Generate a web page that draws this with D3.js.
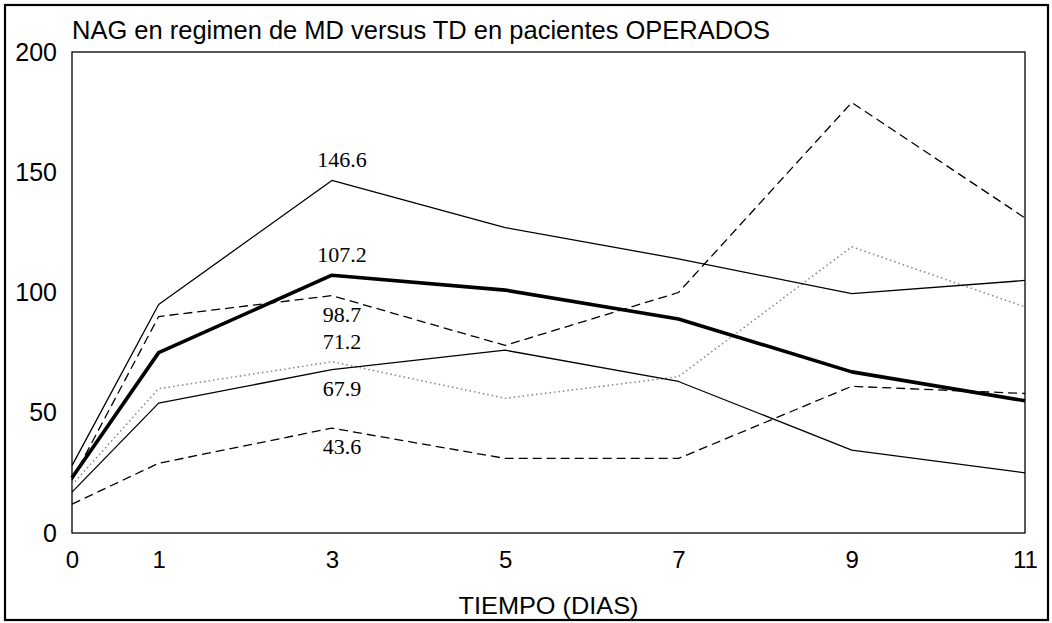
<!DOCTYPE html>
<html>
<head>
<meta charset="utf-8">
<script src="https://cdn.jsdelivr.net/npm/d3@7/dist/d3.min.js"></script>
<style>
  html, body { margin: 0; padding: 0; background: #fff; }
  svg { display: block; }
</style>
</head>
<body>
<svg id="chart" width="1052" height="623"></svg>
<script>
// ---- data ----
const days = [0, 1, 3, 5, 7, 9, 11];
const yTicks = [0, 50, 100, 150, 200];
const serieSolidUpper = [28, 95, 146.6, 127, 114, 99.5, 105];
const serieDashUpper  = [22, 90, 98.7, 78, 100, 179, 131];
const serieMean       = [23, 75, 107.2, 101, 89, 67, 55];
const serieDotted     = [20, 60, 71.2, 56, 65, 119, 94];
const serieSolidLower = [17, 54, 67.9, 76, 63, 34.5, 25];
const serieDashLower  = [12, 29, 43.6, 31, 31, 61, 58];
const labelTexts = ["146.6", "107.2", "98.7", "71.2", "67.9", "43.6"];
const labelValues = [146.6, 107.2, 98.7, 71.2, 67.9, 43.6];
const labelSide = [-1, -1, 1, -1, 1, 1];
const titleText = "NAG en regimen de MD versus TD en pacientes OPERADOS";
const xTitle = "TIEMPO (DIAS)";

const svg = d3.select("#chart");
const x = d3.scaleLinear().domain([0, 11]).range([72, 1025]);
const y = d3.scaleLinear().domain([0, 200]).range([533, 52]);
const sans = "'Liberation Sans', Arial, Helvetica, sans-serif";
const serif = "'Liberation Serif', 'Times New Roman', serif";

// outer frame
svg.append("rect").attr("x", 5).attr("y", 5).attr("width", 1043).attr("height", 615)
  .attr("fill", "none").attr("stroke", "#000").attr("stroke-width", 2.2);

// plot frame
svg.append("rect").attr("x", x(0)).attr("y", y(200))
  .attr("width", x(11) - x(0)).attr("height", y(0) - y(200))
  .attr("fill", "none").attr("stroke", "#000").attr("stroke-width", 1.3);

// title
svg.append("text").attr("x", 72).attr("y", 39)
  .attr("font-family", sans).attr("font-size", 25)
  .attr("textLength", 698).attr("lengthAdjust", "spacingAndGlyphs")
  .text(titleText);

// axes
const yAxis = svg.append("g").attr("transform", `translate(${x(0)},0)`)
  .call(d3.axisLeft(y).tickValues(yTicks).tickSize(0).tickPadding(15));
yAxis.select(".domain").remove();
yAxis.selectAll("text").attr("font-family", sans).attr("font-size", 25).attr("fill", "#000");

const xAxis = svg.append("g").attr("transform", `translate(0,${y(0)})`)
  .call(d3.axisBottom(x).tickValues(days).tickFormat(d3.format("d")).tickSize(0).tickPadding(18));
xAxis.select(".domain").remove();
xAxis.selectAll("text").attr("font-family", sans).attr("font-size", 24).attr("fill", "#000");

svg.append("text").attr("x", (x(0) + x(11)) / 2).attr("y", 614)
  .attr("text-anchor", "middle").attr("font-family", sans).attr("font-size", 24)
  .attr("textLength", 180).attr("lengthAdjust", "spacingAndGlyphs")
  .text(xTitle);

// lines
const line = d3.line().x((d, i) => x(days[i])).y(d => y(d));
const series = [
  { v: serieDotted,     stroke: "#8a8a8a", w: 1.6, dash: "1.5,3" },
  { v: serieDashLower,  stroke: "#000", w: 1.3, dash: "9,5" },
  { v: serieSolidLower, stroke: "#000", w: 1.3, dash: null },
  { v: serieDashUpper,  stroke: "#000", w: 1.3, dash: "9,5" },
  { v: serieSolidUpper, stroke: "#000", w: 1.3, dash: null },
  { v: serieMean,       stroke: "#000", w: 3.6, dash: null }
];
svg.append("g").selectAll("path").data(series).join("path")
  .attr("d", d => line(d.v))
  .attr("fill", "none")
  .attr("stroke", d => d.stroke)
  .attr("stroke-width", d => d.w)
  .attr("stroke-dasharray", d => d.dash)
  .attr("stroke-linejoin", "round");

// value labels at day 3
svg.append("g").selectAll("text").data(labelTexts).join("text")
  .attr("x", x(3) + 10)
  .attr("y", (d, i) => y(labelValues[i]) + (labelSide[i] < 0 ? -13 : 26))
  .attr("text-anchor", "middle")
  .attr("font-family", serif).attr("font-size", 22).attr("fill", "#000")
  .text(d => d);
</script>
</body>
</html>
